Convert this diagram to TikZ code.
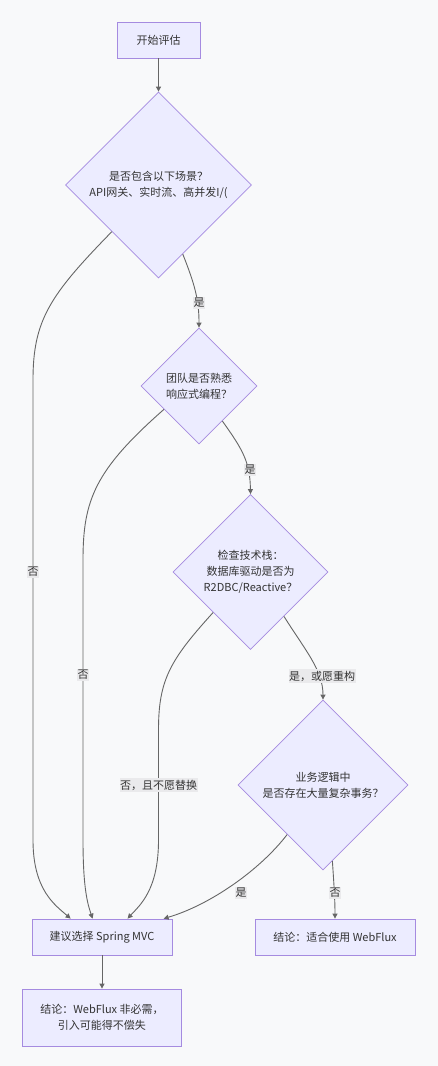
\documentclass[tikz,border=0pt]{standalone}
\usepackage{fontspec}
\setmainfont{Noto Sans CJK SC}
\usetikzlibrary{shapes.geometric,arrows.meta,calc}
\definecolor{nodefill}{HTML}{ECECFF}
\definecolor{nodestroke}{HTML}{A58BE0}
\definecolor{edgecol}{HTML}{666666}
\definecolor{bgcol}{HTML}{F8F9FA}
\definecolor{lblbg}{HTML}{EAEAEC}
\definecolor{txt}{HTML}{333333}
\begin{document}
\begin{tikzpicture}[x=1pt,y=-1pt,
  font=\fontsize{11}{16}\selectfont,
  box/.style={draw=nodestroke,fill=nodefill,line width=0.8pt,inner sep=0pt,minimum height=36pt,text=txt,align=center},
  dia/.style={diamond,aspect=1,draw=nodestroke,fill=nodefill,line width=0.8pt,inner sep=0pt,text=txt,align=center,minimum width=#1,minimum height=#1},
  edge/.style={draw=edgecol,line width=0.9pt,-{Triangle[length=5pt,width=5pt]}},
  lbl/.style={fill=lblbg,inner xsep=0.5pt,inner ysep=1.5pt,text=txt}]
\fill[bgcol] (0,0) rectangle (438,1066);
\useasboundingbox (0,0) rectangle (438,1066);

\node[box,minimum width=83pt] (start) at (158.5,40) {开始评估};
\node[dia=186pt] (d1) at (158.5,185) {是否包含以下场景？\\API网关、实时流、高并发I/(};
\node[dia=116pt] (d2) at (199,386) {团队是否熟悉\\响应式编程？};
\node[dia=155pt] (d3) at (250.5,572) {检查技术栈：\\数据库驱动是否为\\R2DBC/Reactive？};
\node[dia=170pt] (d4) at (323,785) {业务逻辑中\\是否存在大量复杂事务？};
\node[box,minimum width=140pt] (mvc) at (102,937) {建议选择 Spring MVC};
\node[box,minimum width=159pt,minimum height=57pt] (fin) at (102,1017.5) {结论：WebFlux 非必需，\\引入可能得不偿失};
\node[box,minimum width=160pt] (wf) at (335,937) {结论：适合使用 WebFlux};

\draw[edge] (start.south) -- (d1.north);
\draw[edge] ($(d1.south)!0.26!(d1.east)$) .. controls (195,285) and (199,300) .. (d2.north);
\draw[edge] (d1.south west) .. controls (50,295) and (33,320) .. (33,380) -- (33,840) .. controls (33,890) and (55,905) .. ($(mvc.north west)+(39,0)$);
\draw[edge] ($(d2.south)!0.4!(d2.east)$) .. controls (243,450) and (250,462) .. (d3.north);
\draw[edge] ($(d2.west)!0.4!(d2.south)$) .. controls (95,470) and (83,500) .. (83,560) -- (83,840) .. controls (83,890) and (88,905) .. ($(mvc.north west)+(61,0)$);
\draw[edge] ($(d3.south)!0.43!(d3.east)$) .. controls (305,650) and (323,670) .. (d4.north);
\draw[edge] ($(d3.west)!0.52!(d3.south)$) .. controls (170,660) and (158.5,680) .. (158.5,730) -- (158.5,840) .. controls (158.5,890) and (140,905) .. ($(mvc.north west)+(96,0)$);
\draw[edge] ($(d4.west)!0.58!(d4.south)$) .. controls (260,870) and (210,905) .. ($(mvc.north west)+(132,0)$);
\draw[edge] ($(d4.south)!0.11!(d4.east)$) .. controls (334,885) and (335,900) .. (wf.north);
\draw[edge] (mvc.south) -- (fin.north);

\node[lbl] (l1) at (199,303) {是};
\node[lbl] (l2) at (33,572) {否};
\node[lbl] (l3) at (250,470) {是};
\node[lbl] (l4) at (83,675) {否};
\node[lbl] (l5) at (322,676) {是，或愿重构};
\node[lbl] (l6) at (158.5,785) {否，且不愿替换};
\node[lbl] (l7) at (241,893) {是};
\node[lbl] (l8) at (335,893) {否};
\end{tikzpicture}
\end{document}
